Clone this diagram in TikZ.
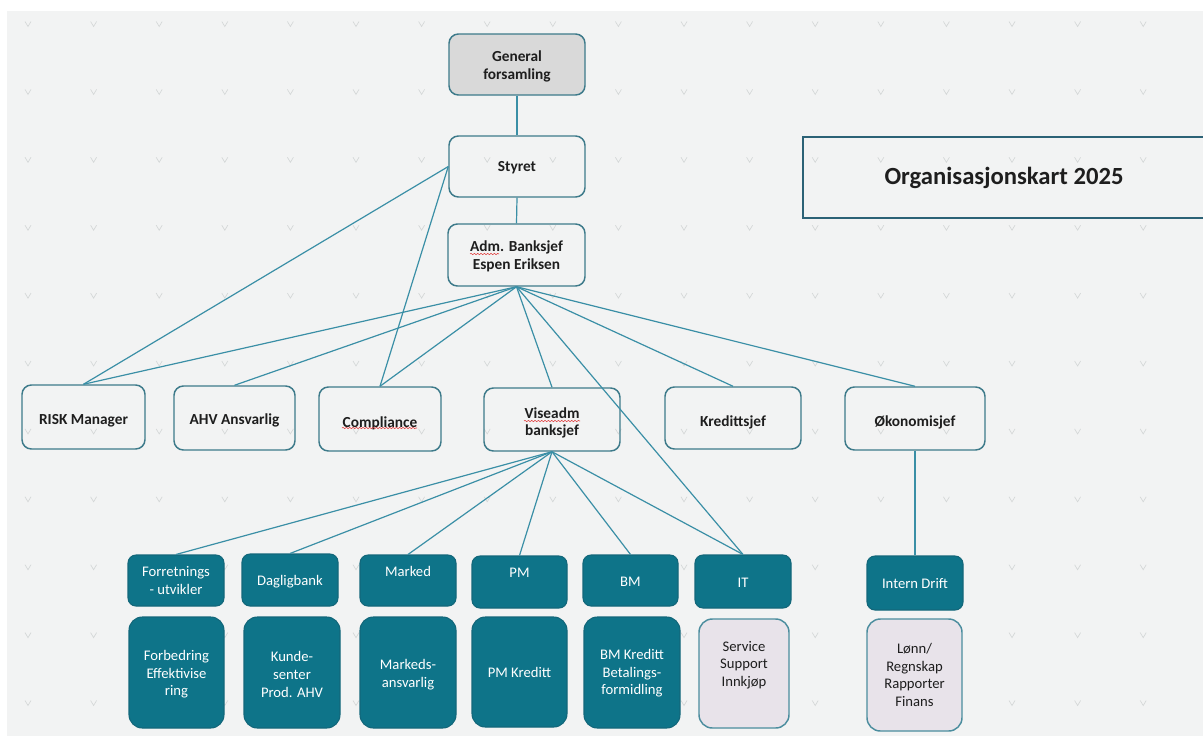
\documentclass[tikz,border=0pt]{standalone}
\usepackage{fontspec}
\setmainfont{Carlito}
\usetikzlibrary{decorations.pathmorphing}
\definecolor{bgc}{HTML}{F2F3F3}
\definecolor{vmk}{HTML}{D4D7D7}
\definecolor{gfill}{HTML}{D9D9D9}
\definecolor{wbord}{HTML}{3D7A8A}
\definecolor{connc}{HTML}{3A8FA6}
\definecolor{dteal}{HTML}{0E7489}
\definecolor{dbord}{HTML}{13677A}
\definecolor{lav}{HTML}{E8E3EA}
\definecolor{lbord}{HTML}{4B8D9E}
\definecolor{tbord}{HTML}{2C6276}
\definecolor{txtc}{HTML}{1E1E1E}
\definecolor{squigc}{HTML}{E03A3A}
\newcommand\btxt{\fontsize{11.5}{13.2}\selectfont\bfseries}
\newcommand\rtxt{\fontsize{11}{13.2}\selectfont}
\newcommand\ttxt{\fontsize{18.5}{22}\selectfont\bfseries}
% \bx[text y-offset px]{style}{name}{x1}{y1}{x2}{y2}{text}
\newcommand\bx[8][0]{%
  \node[#2,minimum width={(#6-#4)*0.75pt},minimum height={(#7-#5)*0.75pt}] (#3) at ({(#4+#6)/2},{(#5+#7)/2}) {};
  \node[#2,draw=none,fill=none,minimum width=0pt,minimum height=0pt] (#3-t) at ({(#4+#6)/2},{(#5+#7)/2+#1}) {#8};}
\begin{document}
\begin{tikzpicture}[x=0.75pt,y=-0.75pt,
  vmark/.style={draw=vmk,line width=0.5pt},
  wbox/.style={draw=wbord,line width=1.1pt,rounded corners=7pt,inner sep=0pt,font=\btxt,text=txtc,align=center},
  gbox/.style={wbox,fill=gfill},
  tbox/.style={draw=dbord,fill=dteal,line width=0.8pt,rounded corners=6pt,inner sep=0pt,font=\rtxt,text=white,align=center},
  bbox/.style={tbox,rounded corners=10pt},
  lbox/.style={draw=lbord,fill=lav,line width=1.1pt,rounded corners=10pt,inner sep=0pt,font=\rtxt,text=txtc,align=center},
  conn/.style={draw=connc,line width=0.9pt},
  squig/.style={draw=squigc,line width=0.4pt,decorate,decoration={snake,amplitude=0.5pt,segment length=2.5pt}}
]
\useasboundingbox (0,0) rectangle (1203,736);
\fill[white] (0,0) rectangle (1203,736);
\fill[bgc] (7,11) rectangle (1203,736);
\foreach \i in {0,...,17}{
  \foreach \j in {0,...,10}{
    \draw[vmark] ({28+65.6*\i-3},{24+67.9*\j-2.5}) -- ++(3,5) -- ++(3,-5);
  }
}
% title
\draw[draw=tbord,line width=1pt] (1204,137) -- (803,137) -- (803,218) -- (1204,218);
\node[font=\ttxt,text=txtc,inner sep=0pt] (title) at (1004,178) {Organisasjonskart 2025};
% top chain
\bx[2]{gbox}{gf}{449}{34}{585}{95}{General\\forsamling}
\bx[1.5]{wbox}{sty}{449}{136}{585}{197}{Styret}
\bx[1.5]{wbox}{adm}{448}{224}{585}{286}{Adm. Banksjef\\Espen Eriksen}
% row 2
\bx[4]{wbox}{risk}{22}{385}{145}{449}{RISK Manager}
\bx[2]{wbox}{ahv}{174}{386}{295}{450}{AHV Ansvarlig}
\bx[4.5]{wbox}{comp}{319}{387}{441}{451}{Compliance}
\bx[3.5]{wbox}{vise}{484}{388}{620}{451}{Viseadm\\banksjef}
\bx[4]{wbox}{kred}{665}{387}{801}{449}{Kredittsjef}
\bx[4]{wbox}{oko}{845}{387}{985}{450}{Økonomisjef}
% row 3
\bx{tbox}{forr}{128}{555}{224}{606}{Forretnings\\- utvikler}
\bx[2]{tbox}{dagl}{242}{554}{338}{606}{Dagligbank}
\bx[-9.5]{tbox}{mark}{360}{555}{456}{606}{Marked}
\bx[-9]{tbox}{pm}{472}{556}{567}{608}{PM}
\bx[1]{tbox}{bm}{583}{555}{678}{606}{BM}
\bx[1]{tbox}{it}{695}{555}{791}{608}{IT}
\bx{tbox}{intd}{867}{556}{963}{610}{Intern Drift}
% row 4
\bx[2]{bbox}{forb}{129}{617}{224}{728}{Forbedring\\Effektivise\\ring}
\bx[2]{bbox}{kund}{244}{617}{340}{728}{Kunde-\\senter\\Prod. AHV}
\bx[2]{bbox}{mka}{360}{617}{456}{728}{Markeds-\\ansvarlig}
\bx{bbox}{pmk}{472}{617}{567}{727}{PM Kreditt}
\bx[1]{bbox}{bmk}{584}{617}{680}{728}{BM Kreditt\\Betalings-\\formidling}
\bx[-8.5]{lbox}{serv}{699}{619}{789}{728}{Service\\Support\\Innkjøp}
\bx{lbox}{lonn}{867}{619}{962}{731}{Lønn/\\Regnskap\\Rapporter\\Finans}
% connectors
\draw[conn] (gf.south) -- (sty.north);
\draw[conn] (sty.south) -- (adm.north);
\draw[conn] (sty.west) -- (risk.north);
\draw[conn] (sty.west) -- (comp.north);
\draw[conn] (adm.south) -- (risk.north);
\draw[conn] (adm.south) -- (ahv.north);
\draw[conn] (adm.south) -- (comp.north);
\draw[conn] (adm.south) -- (vise.north);
\draw[conn] (adm.south) -- (it.north);
\draw[conn] (adm.south) -- (kred.north);
\draw[conn] (adm.south) -- (oko.north);
\draw[conn] (oko.south) -- (intd.north);
\draw[conn] (vise.south) -- (forr.north);
\draw[conn] (vise.south) -- (dagl.north);
\draw[conn] (vise.south) -- (mark.north);
\draw[conn] (vise.south) -- (pm.north);
\draw[conn] (vise.south) -- (bm.north);
\draw[conn] (vise.south) -- (it.north);
% spell-check marks
\draw[squig] (470,254) -- (499,254);
\draw[squig] (342,428) -- (417,428);
\draw[squig] (524,421) -- (580,421);
\end{tikzpicture}
\end{document}
